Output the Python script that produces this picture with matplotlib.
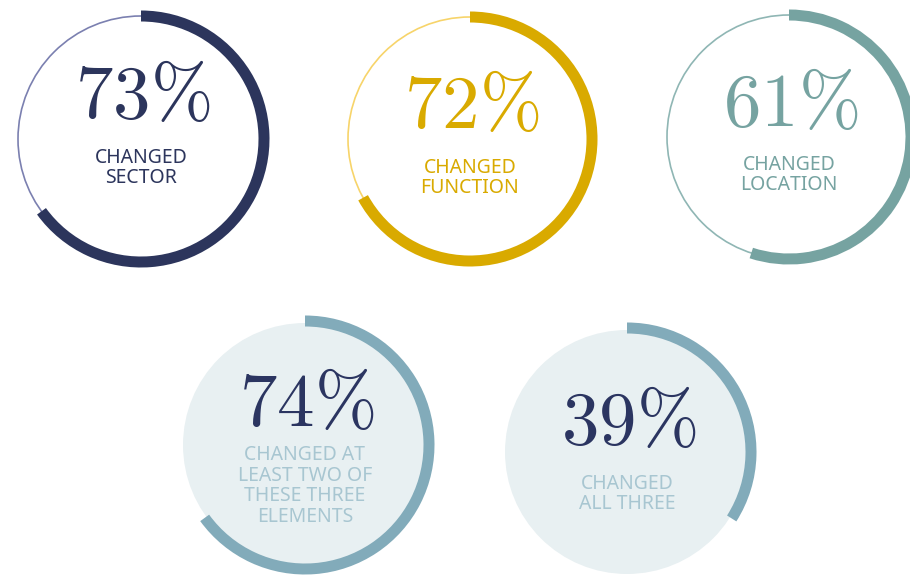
import matplotlib.pyplot as plt
from matplotlib.patches import Wedge, Circle

# Valores del gráfico
porcentajes = [73, 72, 61, 74, 39]
# fracción del anillo dibujada en la imagen original (leída a ojo)
arco = [0.65, 0.67, 0.55, 0.65, 0.34]
etiquetas = ['CHANGED\nSECTOR', 'CHANGED\nFUNCTION', 'CHANGED\nLOCATION',
             'CHANGED AT\nLEAST TWO OF\nTHESE THREE\nELEMENTS',
             'CHANGED\nALL THREE']

# Layout (pixeles)
centros = [(141, 139), (470, 139), (789, 137), (305, 445), (627, 452)]
radios  = [123, 122, 122, 124, 124]
num_y   = [97, 108, 105, 405, 424]
lab_y   = [168, 178, 175, 486, 494]

COL_ARCO  = ['#2c355c', '#d9aa00', '#76a3a1', '#82abba', '#82abba']
COL_FINO  = ['#7b80b0', '#f7d46a', '#8fb6b4', None, None]
COL_FONDO = [None, None, None, '#e8f0f2', '#e8f0f2']
COL_NUM   = ['#2c355c', '#d9aa00', '#76a3a1', '#2b3561', '#2b3561']
COL_LAB   = ['#2c355c', '#d9aa00', '#76a3a1', '#a8c6d1', '#a8c6d1']

plt.rcParams['mathtext.fontset'] = 'cm'

fig = plt.figure(figsize=(9.1, 5.77), dpi=100)
ax = fig.add_axes([0, 0, 1, 1])
ax.set_xlim(0, 910)
ax.set_ylim(577, 0)
ax.set_aspect('equal')
ax.axis('off')

ANCHO = 11

for i in range(len(porcentajes)):
   cx, cy = centros[i]
   r = radios[i]

   if COL_FONDO[i] is not None:
      ax.add_patch(Circle((cx, cy), r - 2, facecolor=COL_FONDO[i],
                          edgecolor='none'))
   if COL_FINO[i] is not None:
      ax.add_patch(Circle((cx, cy), r, facecolor='none',
                          edgecolor=COL_FINO[i], linewidth=1.2))

   # eje y invertido: los ángulos crecen en sentido horario en pantalla
   t0 = -90
   t1 = -90 + 360 * arco[i]
   ax.add_patch(Wedge((cx, cy), r + ANCHO / 2, t0, t1, width=ANCHO,
                      facecolor=COL_ARCO[i], edgecolor='none'))

   ax.text(cx + 2, num_y[i], r'$%d\%%$' % porcentajes[i], fontsize=54,
           color=COL_NUM[i], ha='center', va='center')
   ax.text(cx, lab_y[i], etiquetas[i], fontsize=14, family='Noto Sans',
           color=COL_LAB[i], ha='center', va='center', linespacing=1.03)

fig.savefig('out.png', dpi=100, facecolor='white')
